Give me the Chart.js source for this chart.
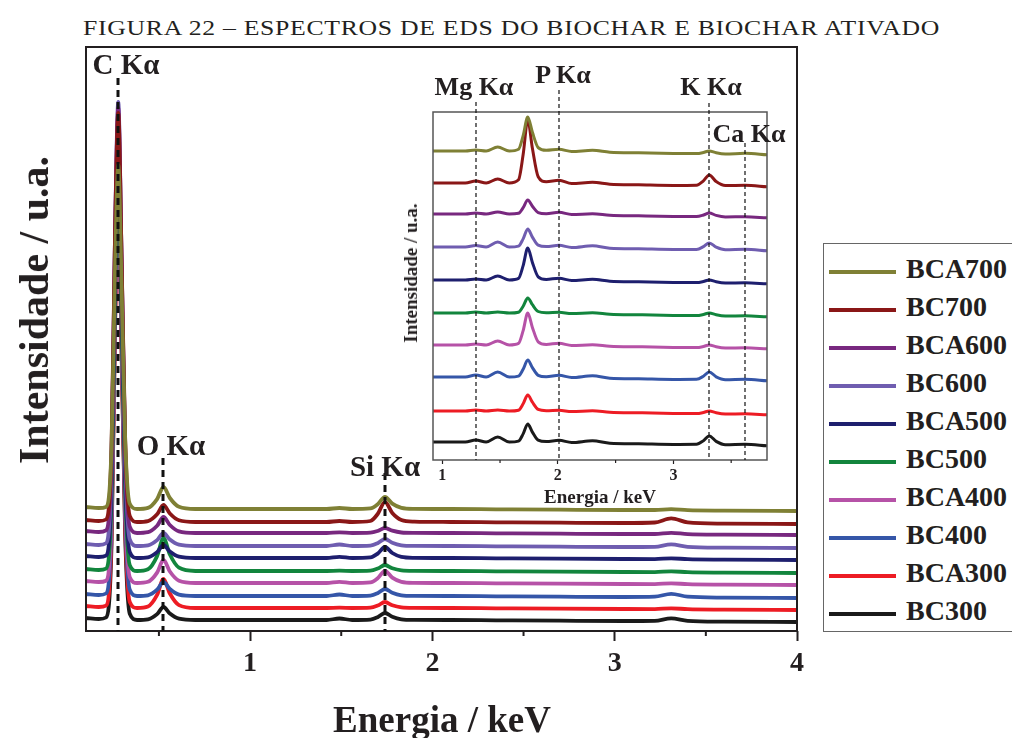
<!DOCTYPE html>
<html lang="pt">
<head>
<meta charset="UTF-8">
<title>Espectros de EDS do biochar e biochar ativado</title>
<script src="https://cdn.jsdelivr.net/npm/chart.js"></script>
<style>
    body {
        margin: 0;
        width: 1012px;
        height: 738px;
        overflow: hidden;
        position: relative;
        background: #fff;
        color: #231f20;
        font-family: "Liberation Serif", "Times New Roman", serif;
    }
    canvas { position: absolute; }
    #mainChart { left: 0; top: 0; }
    #insetChart { left: 400px; top: 80px; }
    .title {
        position: absolute;
        left: 83px;
        top: 15px;
        font-size: 22px;
        letter-spacing: 0.6px;
        white-space: nowrap;
        transform-origin: 0 50%;
    }
    .lbl {
        position: absolute;
        transform: translate(-50%, -50%);
        font-weight: bold;
        white-space: nowrap;
    }
    .rot { transform: translate(-50%, -50%) rotate(-90deg); }
    .legend {
        position: absolute;
        left: 823px;
        top: 243px;
        width: 220px;
        height: 389px;
        border: 1px solid #666;
        padding-top: 6px;
        box-sizing: border-box;
    }
    .legend-item {
        height: 38px;
        line-height: 38px;
        font-size: 28px;
        font-weight: bold;
        white-space: nowrap;
    }
    .legend-line {
        display: inline-block;
        width: 67px;
        height: 4px;
        margin: 0 10px 0 5px;
        vertical-align: middle;
    }
</style>
</head>
<body>
    <div class="title" id="title">FIGURA 22 – ESPECTROS DE EDS DO BIOCHAR E BIOCHAR ATIVADO</div>
    <canvas id="mainChart" width="820" height="738"></canvas>
    <canvas id="insetChart" width="380" height="430"></canvas>

    <div class="lbl" style="left:126px; top:64px; font-size:29px;">C Kα</div>
    <div class="lbl" style="left:171px; top:445px; font-size:29px;">O Kα</div>
    <div class="lbl" style="left:385px; top:466px; font-size:29px;">Si Kα</div>
    <div class="lbl" style="left:474px; top:87px; font-size:26px;">Mg Kα</div>
    <div class="lbl" style="left:563px; top:75px; font-size:26px;">P Kα</div>
    <div class="lbl" style="left:711px; top:87px; font-size:26px;">K Kα</div>
    <div class="lbl" style="left:749px; top:134px; font-size:26px;">Ca Kα</div>

    <div class="lbl" style="left:442px; top:719px; font-size:37px;">Energia / keV</div>
    <div class="lbl rot" style="left:34px; top:310px; font-size:42px;">Intensidade / u.a.</div>
    <div class="lbl" style="left:600px; top:497px; font-size:19px;">Energia / keV</div>
    <div class="lbl rot" style="left:411px; top:273px; font-size:19px;">Intensidade / u.a.</div>

    <div class="legend" id="legend"></div>

<script>
// series, top to bottom as in the legend
const seriesNames = ['BCA700', 'BC700', 'BCA600', 'BC600', 'BCA500', 'BC500', 'BCA400', 'BC400', 'BCA300', 'BC300'];
const seriesColors = ['#7f8035', '#8a1717', '#78287f', '#6f5db0', '#1e1f6e', '#12853d', '#b652a7', '#3556a8', '#ed1c24', '#1a1a1a'];

// ---- main plot (energy in keV, intensity in arbitrary units) ----
const energyMain = [0.10, 0.17, 0.21, 0.24, 0.26, 0.277, 0.295, 0.315, 0.34, 0.38,
                    0.44, 0.49, 0.525, 0.56, 0.61, 0.70, 0.90, 1.20, 1.42, 1.49,
                    1.56, 1.66, 1.70, 1.74, 1.78, 1.83, 1.90, 2.10, 2.35, 2.70,
                    3.05, 3.22, 3.31, 3.40, 3.60, 4.00];
const offsetMain = [122, 109, 98, 85, 73, 60, 48, 35, 23, 11];

const mainBCA700 = [2, 1, 2.1, 61.9, 247.7, 344, 223.6, 68.8, 5.2, 0, 1.1, 9.9, 22, 11, 2.2, 0, 0, 0, 0, 1, 0, 0.6, 4.8, 12, 5.4, 1.2, 0.2, 0, -0.3, -0.7, -1, -1.0, -0.1, -1.2, -1.6, -2];
const mainBC700  = [2, 1, 2.5, 73.6, 294.5, 409, 265.9, 81.8, 6.1, 0, 0.9, 7.7, 17, 8.5, 1.7, 0, 0, 0, 0, 1, 0, 1, 8, 20, 9, 2, 0.4, 0, -0.3, -0.7, -1, -0.5, 3.7, -0.4, -1.6, -2];
const mainBCA600 = [2, 1, 2.6, 76.5, 306, 425, 276.3, 85, 6.4, 0, 0.8, 7.2, 16, 8, 1.6, 0, 0, 0, 0, 0.6, 0, 0.3, 2, 5, 2.3, 0.5, 0.1, 0, -0.3, -0.7, -1, -1.0, 0.2, -1.1, -1.6, -2];
const mainBC600  = [2, 1, 2.7, 79.9, 319.7, 444, 288.6, 88.8, 6.7, 0, 0.7, 5.9, 13, 6.5, 1.3, 0, 0, 0, 0, 1.5, 0, 0.4, 2.8, 7, 3.2, 0.7, 0.1, 0, -0.3, -0.7, -1, -0.8, 1.7, -0.8, -1.6, -2];
const mainBCA500 = [2, 1, 2.4, 72, 288, 400, 260, 80, 6, 0, 0.7, 5.9, 13, 6.5, 1.3, 0, 0, 0, 0, 1.2, 0, 0.6, 4.4, 11, 5, 1.1, 0.2, 0, -0.3, -0.7, -1, -1.1, -0.3, -1.2, -1.6, -2];
const mainBC500  = [2, 1, 2.4, 71.1, 284.4, 395, 256.8, 79, 5.9, 0, 1.7, 14.9, 33, 16.5, 3.3, 0, 0, 0, 0, 0.3, 0, 0.3, 2.4, 6, 2.7, 0.6, 0.1, 0, -0.3, -0.7, -1, -1.1, -0.3, -1.2, -1.6, -2];
const mainBCA400 = [2, 1, 2.3, 69.3, 277.2, 385, 250.3, 77, 5.8, 0, 1.2, 10.4, 23, 11.5, 2.3, 0, 0, 0, 0, 1.2, 0, 0.6, 4.8, 12, 5.4, 1.2, 0.2, 0, -0.3, -0.7, -1, -1.1, -0.3, -1.2, -1.6, -2];
const mainBC400  = [2, 1, 2.5, 73.8, 295.2, 410, 266.5, 82, 6.2, 0, 0.7, 6.3, 14, 7, 1.4, 0, 0, 0, 0, 1.5, 0, 0.4, 2.8, 7, 3.2, 0.7, 0.1, 0, -0.3, -0.7, -1, -0.7, 2.2, -0.7, -1.6, -2];
const mainBCA300 = [2, 1, 2.4, 72, 288, 400, 260, 80, 6, 0, 1.5, 13.1, 29, 14.5, 2.9, 0, 0, 0, 0, 0.3, 0, 0.3, 2.4, 6, 2.7, 0.6, 0.1, 0, -0.3, -0.7, -1, -1.1, -0.3, -1.2, -1.6, -2];
const mainBC300  = [2, 1, 2.5, 75.6, 302.4, 420, 273, 84, 6.3, 0, 0.7, 5.9, 13, 6.5, 1.3, 0, 0, 0, 0, 1.5, 0, 0.4, 2.8, 7, 3.2, 0.7, 0.1, 0, -0.3, -0.7, -1, -0.8, 1.7, -0.8, -1.6, -2];

const mainMajorTicks = [1, 2, 3, 4];
const mainMinorTicks = [0.5, 1.5, 2.5, 3.5];
const mainLines = [0.277, 0.525, 1.74];   // C, O, Si K-alpha

// ---- inset (zoom 0.9 - 3.8 keV) ----
const energyInset = [0.92, 1.05, 1.20, 1.29, 1.38, 1.48, 1.58, 1.66, 1.70, 1.74,
                     1.78, 1.83, 1.90, 2.01, 2.12, 2.30, 2.45, 2.70, 3.00, 3.20,
                     3.26, 3.31, 3.37, 3.45, 3.62, 3.81];
const offsetInset = [309, 277, 246, 213, 180, 147, 115, 83, 49, 18];

const insetBCA700 = [0, 0, 0, 1, 0, 4, 0, 1.7, 15.3, 34, 18.7, 3.4, 0.7, 1.7, -0.5, 0.7, -1.2, -1.8, -2.4, -2.6, -1.5, 0.1, -1.8, -3.0, -2.3, -3.8];
const insetBC700  = [0, 0, 0, 2, 0, 4, 0, 3.2, 28.4, 63, 34.7, 6.3, 1.3, 2.7, -0.5, 0.7, -1.2, -1.8, -2.4, -2.2, 2.2, 8.1, 1.4, -2.6, -2.3, -3.8];
const insetBCA600 = [0, 0, 0, 1, 0, 2, 0, 0.7, 6.3, 14, 7.7, 1.4, 0.3, 1.7, -0.5, 0.2, -1.2, -1.8, -2.4, -2.5, -1.0, 1.1, -1.4, -2.9, -2.8, -3.8];
const insetBC600  = [0, 0, 0, 1.5, 0, 5, 0, 0.9, 8.1, 18, 9.9, 1.8, 0.4, 1.7, -0.5, 1.2, -1.2, -1.8, -2.4, -2.4, 0.4, 4.1, -0.2, -2.8, -2.3, -3.8];
const insetBCA500 = [0, 0, 0, 1, 0, 4, 0, 1.6, 14.4, 32, 17.6, 3.2, 0.6, 1.7, -0.5, 0.7, -1.2, -1.8, -2.4, -2.6, -1.5, 0.1, -1.8, -3.0, -2.8, -3.8];
const insetBC500  = [0, 0, 0, 1, 0, 1, 0, 0.8, 6.8, 15, 8.3, 1.5, 0.3, 0.7, -0.5, 0.2, -1.2, -1.8, -2.4, -2.6, -1.5, 0.1, -1.8, -3.0, -2.8, -3.8];
const insetBCA400 = [0, 0, 0, 1, 0, 4, 0, 1.6, 14.4, 32, 17.6, 3.2, 0.6, 1.7, -0.5, 0.2, -1.2, -1.8, -2.4, -2.6, -1.5, 0.1, -1.8, -3.0, -2.8, -3.8];
const insetBC400  = [0, 0, 0, 2, 0, 5, 0, 0.9, 7.7, 17, 9.4, 1.7, 0.3, 1.7, -0.5, 1.2, -1.2, -1.8, -2.4, -2.3, 0.8, 5.1, 0.2, -2.7, -2.3, -3.8];
const insetBCA300 = [0, 0, 0, 1, 0, 1, 0, 0.8, 7.2, 16, 8.8, 1.6, 0.3, 0.7, -0.5, 0.2, -1.2, -1.8, -2.4, -2.6, -1.5, 0.1, -1.8, -3.0, -2.8, -3.8];
const insetBC300  = [0, 0, 0, 2, 0, 5, 0, 0.9, 8.1, 18, 9.9, 1.8, 0.4, 1.7, -0.5, 1.2, -1.2, -1.8, -2.4, -2.3, 1.3, 6.1, 0.6, -2.7, -2.3, -3.8];

const insetMajorTicks = [1, 2, 3];
const insetMinorTicks = [1.5, 2.5, 3.5];
const insetLines = [1.29, 2.01, 3.31, 3.62];   // Mg, P, K, Ca K-alpha

const mainProfiles = [mainBCA700, mainBC700, mainBCA600, mainBC600, mainBCA500, mainBC500, mainBCA400, mainBC400, mainBCA300, mainBC300];
const insetProfiles = [insetBCA700, insetBC700, insetBCA600, insetBC600, insetBCA500, insetBC500, insetBCA400, insetBC400, insetBCA300, insetBC300];

const ink = '#231f20';
const serif = 'Liberation Serif';

// stretch the caption to the width it has in the figure
const title = document.getElementById('title');
title.style.transform = `scaleX(${857 / title.offsetWidth})`;

// frame box, minor ticks and dashed marker lines
const decor = {
    id: 'decor',
    afterDatasetsDraw(chart, args, o) {
        const { ctx, chartArea: a } = chart;
        const x = chart.scales.x;
        ctx.save();
        ctx.strokeStyle = o.frameColor;
        ctx.lineWidth = o.frameWidth;
        ctx.strokeRect(a.left, a.top, a.right - a.left, a.bottom - a.top);

        ctx.strokeStyle = ink;
        ctx.lineWidth = o.tickWidth;
        ctx.beginPath();
        o.minor.forEach(v => {
            const px = x.getPixelForValue(v);
            ctx.moveTo(px, a.bottom);
            ctx.lineTo(px, a.bottom + o.minorLen);
        });
        ctx.stroke();

        ctx.strokeStyle = '#111';
        ctx.lineWidth = o.dashWidth;
        ctx.setLineDash(o.dash);
        o.lines.forEach((v, i) => {
            const px = Math.round(x.getPixelForValue(v));
            ctx.beginPath();
            ctx.moveTo(px, o.lineTops[i]);
            ctx.lineTo(px, a.bottom);
            ctx.stroke();
        });
        ctx.restore();
    }
};

function makeSets(energy, profiles, offsets, width) {
    return seriesNames.map((name, i) => ({
        label: name,
        data: energy.map((e, j) => ({ x: e, y: offsets[i] + profiles[i][j] })),
        borderColor: seriesColors[i],
        borderWidth: width,
        pointRadius: 0,
        cubicInterpolationMode: 'monotone',
        fill: false
    }));
}

new Chart(document.getElementById('mainChart'), {
    type: 'line',
    data: { datasets: makeSets(energyMain, mainProfiles, offsetMain, 3.8) },
    options: {
        responsive: false,
        animation: false,
        layout: { padding: { top: 47, right: 23, left: 86, bottom: 0 } },
        plugins: {
            legend: { display: false },
            tooltip: { enabled: false },
            decor: {
                frameColor: ink, frameWidth: 2, tickWidth: 2, minor: mainMinorTicks, minorLen: 5,
                lines: mainLines, lineTops: [78, 458, 473], dashWidth: 3, dash: [7, 5]
            }
        },
        scales: {
            x: {
                type: 'linear', min: 0.1, max: 4,
                afterBuildTicks: s => { s.ticks = mainMajorTicks.map(v => ({ value: v })); },
                afterFit: s => { s.height = 107; },
                grid: { drawOnChartArea: false, tickLength: 10, tickWidth: 2, tickColor: ink },
                border: { display: false },
                ticks: { color: ink, font: { family: serif, size: 28, weight: 'bold' }, padding: 6, maxRotation: 0, autoSkip: false }
            },
            y: { display: false, min: 0, max: 584 }
        }
    },
    plugins: [decor]
});

new Chart(document.getElementById('insetChart'), {
    type: 'line',
    data: { datasets: makeSets(energyInset, insetProfiles, offsetInset, 3) },
    options: {
        responsive: false,
        animation: false,
        layout: { padding: { top: 32, right: 13, left: 33, bottom: 0 } },
        plugins: {
            legend: { display: false },
            tooltip: { enabled: false },
            decor: {
                frameColor: '#555', frameWidth: 1.5, tickWidth: 1.2, minor: insetMinorTicks, minorLen: 3,
                lines: insetLines, lineTops: [22, 10, 23, 63], dashWidth: 1.2, dash: [4, 3]
            }
        },
        scales: {
            x: {
                type: 'linear', min: 0.92, max: 3.81,
                afterBuildTicks: s => { s.ticks = insetMajorTicks.map(v => ({ value: v })); },
                afterFit: s => { s.height = 50; },
                grid: { drawOnChartArea: false, tickLength: 4, tickWidth: 1.2, tickColor: ink },
                border: { display: false },
                ticks: { color: ink, font: { family: serif, size: 16, weight: 'bold' }, padding: 2, maxRotation: 0, autoSkip: false }
            },
            y: { display: false, min: 0, max: 348 }
        }
    },
    plugins: [decor]
});

// legend box on the right
const legend = document.getElementById('legend');
seriesNames.forEach((name, i) => {
    const item = document.createElement('div');
    item.className = 'legend-item';
    item.innerHTML = `<span class="legend-line" style="background:${seriesColors[i]}"></span>${name}`;
    legend.appendChild(item);
});
</script>
</body>
</html>
